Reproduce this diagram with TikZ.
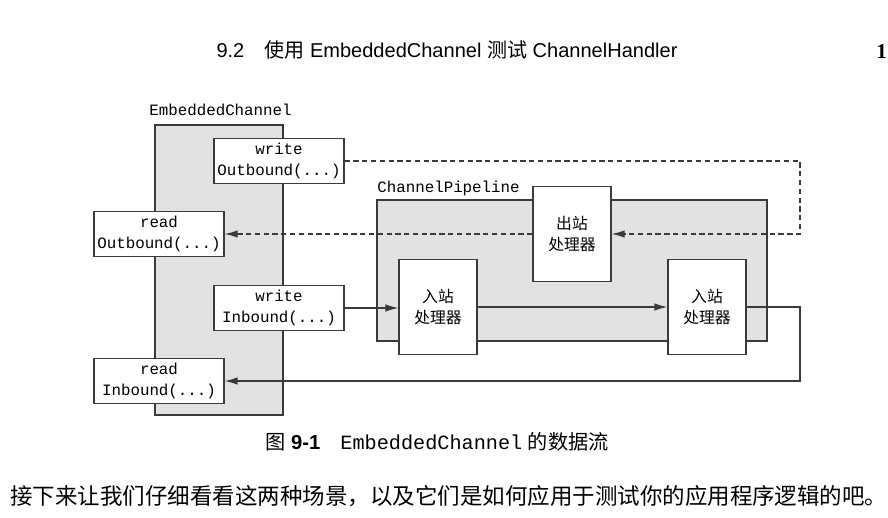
\documentclass[tikz,border=0pt]{standalone}
\usepackage{fontspec}
\setmainfont{Liberation Sans}
\setmonofont{Liberation Mono}
\newfontfamily\cjk{Noto Sans CJK SC}
\newfontfamily\titleserif{Liberation Serif}
\usetikzlibrary{arrows.meta}

\definecolor{linegray}{HTML}{3A3A3A}
\definecolor{panelgray}{HTML}{E2E2E2}

\tikzset{
	callbox/.style = {draw = linegray, fill = white, line width = 0.7pt, align = center,
		minimum width = 2.6cm, minimum height = 0.9cm, inner sep = 0pt,
		font = \ttfamily\fontsize{9}{11.5}\selectfont},
	handlerbox/.style = {draw = linegray, fill = white, line width = 0.7pt, align = center,
		minimum width = 1.56cm, minimum height = 1.9cm, inner sep = 0pt,
		font = \cjk\fontsize{9}{11.5}\selectfont},
	panel/.style = {draw = linegray, fill = panelgray, line width = 0.7pt},
	panellabel/.style = {anchor = west, inner sep = 0pt, font = \ttfamily\fontsize{9}{11}\selectfont},
	flow/.style = {draw = linegray, line width = 0.7pt, -{Latex[length = 2.6mm, width = 1.5mm]}},
}

\begin{document}
\begin{tikzpicture}[x = 0.02cm, y = -0.02cm]
	\useasboundingbox [fill = white] (0,0) rectangle (888,517);

	% page header
	\node (header) at (447,50) {\fontsize{11.4}{13}\selectfont 9.2\quad{\cjk 使用} EmbeddedChannel {\cjk 测试} ChannelHandler};
	\node [anchor = west, inner sep = 0pt] (pagenum) at (876,52) {\titleserif\bfseries\fontsize{12}{14}\selectfont 1};

	% containers
	\begin{scope}
		\draw [panel] (155,125) rectangle (283,415);
		\node [panellabel] (embLabel) at (149,110) {EmbeddedChannel};

		\draw [panel] (377,200) rectangle (767,341);
		\node [panellabel] (pipeLabel) at (377,188) {ChannelPipeline};
	\end{scope}

	% EmbeddedChannel methods
	\begin{scope}
		\node [callbox] (writeOut) at (279,161) {write\\Outbound(...)};
		\node [callbox] (readOut) at (159,234) {read\\Outbound(...)};
		\node [callbox] (writeIn) at (279,308) {write\\Inbound(...)};
		\node [callbox] (readIn) at (159,381) {read\\Inbound(...)};
	\end{scope}

	% handlers
	\begin{scope}
		\node [handlerbox] (outHandler) at (572,234) {出站\\处理器};
		\node [handlerbox] (inHandlerA) at (438,307) {入站\\处理器};
		\node [handlerbox] (inHandlerB) at (707,307) {入站\\处理器};
	\end{scope}

	% outbound flow
	\begin{scope}[dash pattern = on 3pt off 2pt]
		\draw [flow] (writeOut.east) -- (800,161) |- (outHandler.east);
		\draw [flow] (outHandler.west) -- (readOut.east);
	\end{scope}

	% inbound flow
	\begin{scope}
		\draw [flow] (writeIn.east) -- (inHandlerA.west |- writeIn.east);
		\draw [flow] (inHandlerA.east) -- (inHandlerB.west);
		\draw [flow] (inHandlerB.east) -- (800,307) |- (readIn.east);
	\end{scope}

	% caption and text
	\node (caption) at (437,442) {\fontsize{11.5}{13}\selectfont{\cjk 图} \textbf{9-1}\quad{\ttfamily EmbeddedChannel} {\cjk 的数据流}};
	\node [anchor = west, inner sep = 0pt] (bodyText) at (10,496) {\cjk\fontsize{12.8}{15}\selectfont 接下来让我们仔细看看这两种场景，以及它们是如何应用于测试你的应用程序逻辑的吧。};
\end{tikzpicture}
\end{document}
